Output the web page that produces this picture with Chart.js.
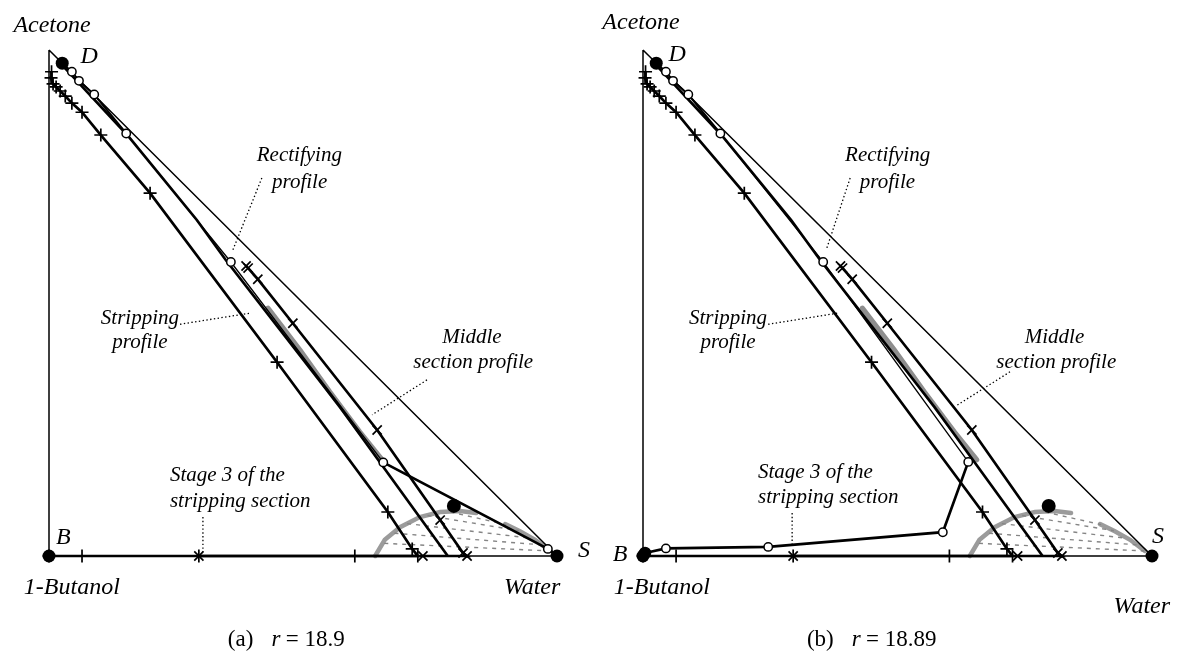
<!DOCTYPE html>
<html>
<head>
<meta charset="utf-8">
<title>Acetone / 1-Butanol / Water column profiles</title>
<script src="https://cdn.jsdelivr.net/npm/chart.js@4.4.1/dist/chart.umd.min.js"></script>
<style>
  html, body { margin: 0; padding: 0; background: #ffffff; }
  #wrap { position: relative; width: 1186px; height: 670px; overflow: hidden; }
  canvas { position: absolute; top: 0; }
  #panelA { left: 0; }
  #panelB { left: 593px; }
</style>
</head>
<body>
<div id="wrap">
  <canvas id="panelA" width="593" height="670" style="width:593px;height:670px"></canvas>
  <canvas id="panelB" width="593" height="670" style="width:593px;height:670px"></canvas>
</div>
<script>
// Right-triangle ternary diagram: x = water fraction, y = acetone fraction, 1-butanol is the balance.

// Triangle edges (Acetone -> 1-Butanol -> Water -> Acetone)
const triangleWater   = [0, 0, 1, 0];
const triangleAcetone = [1, 0, 0, 1];

// Products D, B, S
const productWater   = [0.026, 0, 1];
const productAcetone = [0.974, 0, 0];

// Feed composition
const feedWater   = [0.797];
const feedAcetone = [0.099];

// Rectifying profile, r = 18.9
const rectAWater   = [0.026, 0.045, 0.059, 0.089, 0.152, 0.358, 0.658, 0.982, 1.000];
const rectAAcetone = [0.974, 0.957, 0.939, 0.912, 0.835, 0.581, 0.185, 0.014, 0.000];

// Rectifying profile, r = 18.89
const rectBWater   = [0.026, 0.045, 0.059, 0.089, 0.152, 0.354, 0.639, 0.589, 0.246, 0.045, 0.004];
const rectBAcetone = [0.974, 0.957, 0.939, 0.912, 0.835, 0.581, 0.186, 0.047, 0.018, 0.015, 0.006];

// Stripping profile (stage by stage from B)
const stripWater   = [0, 0.065, 0.295, 0.602, 0.726, 0.715, 0.667, 0.449, 0.199, 0.102, 0.065, 0.045, 0.032, 0.022, 0.014, 0.008, 0.004, 0.005];
const stripAcetone = [0, 0, 0, 0, 0, 0.014, 0.087, 0.383, 0.717, 0.832, 0.877, 0.895, 0.909, 0.919, 0.927, 0.933, 0.945, 0.957];

// Middle section profile
const midWater   = [0.388, 0.392, 0.411, 0.480, 0.646, 0.770, 0.815, 0.823, 0.736, 0.295];
const midAcetone = [0.573, 0.569, 0.547, 0.460, 0.249, 0.071, 0.006, 0.000, 0.000, 0.000];

// Rectifying pinch branch from D
const pinchWater   = [0.026, 0.154, 0.291, 0.348, 0.455, 0.573, 0.785];
const pinchAcetone = [0.970, 0.832, 0.664, 0.585, 0.447, 0.294, 0.000];

// Grey curve segment in the middle of the diagram
const greyWater   = [0.431, 0.494, 0.553, 0.612, 0.656];
const greyAcetone = [0.490, 0.407, 0.324, 0.245, 0.190];

// Liquid-liquid envelope branches
const binodalLeftWater    = [0.642, 0.661, 0.691, 0.730, 0.770, 0.809, 0.841];
const binodalLeftAcetone  = [0.000, 0.032, 0.057, 0.077, 0.087, 0.089, 0.085];
const binodalRightWater   = [0.898, 0.927, 0.957, 0.986];
const binodalRightAcetone = [0.063, 0.049, 0.032, 0.010];

// Tie lines (left end -> right end)
const tieLeftWater    = [0.790, 0.745, 0.705, 0.680, 0.660];
const tieLeftAcetone  = [0.087, 0.080, 0.064, 0.045, 0.025];
const tieRightWater   = [0.900, 0.925, 0.950, 0.970, 0.985];
const tieRightAcetone = [0.062, 0.050, 0.035, 0.022, 0.010];

const FONT = '"Liberation Serif", "Times New Roman", Times, serif';

const pts = (xs, ys) => xs.map((x, i) => ({ x: x, y: ys[i] }));

// Text and leader lines, positioned in diagram units
const annotationsA = {
  texts: [
    { t: 'Acetone', x: 0.006, y: 1.049, s: 24 },
    { t: 'D', x: 0.079, y: 0.986, s: 24 },
    { t: 'B', x: 0.028, y: 0.036, s: 24 },
    { t: 'S', x: 1.053, y: 0.010, s: 24 },
    { t: '1-Butanol', x: 0.045, y: -0.063, s: 24 },
    { t: 'Water', x: 0.951, y: -0.063, s: 24 },
    { t: 'Rectifying', x: 0.409, y: 0.791, s: 21, a: 'left' },
    { t: 'profile', x: 0.439, y: 0.739, s: 21, a: 'left' },
    { t: 'Stripping', x: 0.179, y: 0.470, s: 21 },
    { t: 'profile', x: 0.179, y: 0.421, s: 21 },
    { t: 'Middle', x: 0.774, y: 0.431, s: 21, a: 'left' },
    { t: 'section profile', x: 0.717, y: 0.383, s: 21, a: 'left' },
    { t: 'Stage 3 of the', x: 0.238, y: 0.160, s: 21, a: 'left' },
    { t: 'stripping section', x: 0.238, y: 0.107, s: 21, a: 'left' },
    { t: '(a)', x: 0.352, y: -0.166, s: 23, a: 'left', up: true },
    { t: 'r', x: 0.438, y: -0.166, s: 23, a: 'left' },
    { t: '= 18.9', x: 0.466, y: -0.166, s: 23, a: 'left', up: true }
  ],
  leaders: [
    [0.419, 0.747, 0.362, 0.605],
    [0.258, 0.458, 0.396, 0.480],
    [0.744, 0.348, 0.636, 0.279],
    [0.303, 0.077, 0.303, 0.008]
  ]
};

const annotationsB = {
  texts: [
    { t: 'Acetone', x: -0.004, y: 1.053, s: 24 },
    { t: 'D', x: 0.067, y: 0.990, s: 24 },
    { t: 'B', x: -0.045, y: 0.002, s: 24 },
    { t: 'S', x: 1.012, y: 0.038, s: 24 },
    { t: '1-Butanol', x: 0.037, y: -0.063, s: 24 },
    { t: 'Water', x: 0.980, y: -0.101, s: 24 },
    { t: 'Rectifying', x: 0.397, y: 0.791, s: 21, a: 'left' },
    { t: 'profile', x: 0.426, y: 0.739, s: 21, a: 'left' },
    { t: 'Stripping', x: 0.167, y: 0.470, s: 21 },
    { t: 'profile', x: 0.167, y: 0.421, s: 21 },
    { t: 'Middle', x: 0.750, y: 0.431, s: 21, a: 'left' },
    { t: 'section profile', x: 0.694, y: 0.383, s: 21, a: 'left' },
    { t: 'Stage 3 of the', x: 0.226, y: 0.166, s: 21, a: 'left' },
    { t: 'stripping section', x: 0.226, y: 0.115, s: 21, a: 'left' },
    { t: '(b)', x: 0.322, y: -0.166, s: 23, a: 'left', up: true },
    { t: 'r', x: 0.410, y: -0.166, s: 23, a: 'left' },
    { t: '= 18.89', x: 0.438, y: -0.166, s: 23, a: 'left', up: true }
  ],
  leaders: [
    [0.407, 0.747, 0.360, 0.605],
    [0.246, 0.458, 0.383, 0.480],
    [0.721, 0.364, 0.617, 0.298],
    [0.293, 0.085, 0.293, 0.018]
  ]
};

const textPlugin = {
  id: 'ternaryText',
  afterDatasetsDraw(chart, args, opts) {
    const ctx = chart.ctx;
    const xs = chart.scales.x, ys = chart.scales.y;
    ctx.save();
    ctx.strokeStyle = '#000';
    ctx.lineWidth = 1.3;
    ctx.setLineDash([1.4, 2.4]);
    for (const l of opts.leaders) {
      ctx.beginPath();
      ctx.moveTo(xs.getPixelForValue(l[0]), ys.getPixelForValue(l[1]));
      ctx.lineTo(xs.getPixelForValue(l[2]), ys.getPixelForValue(l[3]));
      ctx.stroke();
    }
    ctx.setLineDash([]);
    ctx.fillStyle = '#000';
    ctx.textBaseline = 'middle';
    for (const t of opts.texts) {
      ctx.font = (t.up ? '' : 'italic ') + t.s + 'px ' + FONT;
      ctx.textAlign = t.a || 'center';
      ctx.fillText(t.t, xs.getPixelForValue(t.x), ys.getPixelForValue(t.y));
    }
    ctx.restore();
  }
};

function line(data, color, width, extra) {
  return Object.assign({
    data: data, showLine: true, borderColor: color, borderWidth: width,
    pointRadius: 0, fill: false, clip: false, tension: 0
  }, extra || {});
}

function buildDatasets(rectW, rectA, rectEndFilled) {
  const ds = [];
  // envelope and tie lines (underneath)
  ds.push(line(pts(binodalLeftWater, binodalLeftAcetone), '#9b9b9b', 4.5, { order: 30, borderCapStyle: 'round' }));
  ds.push(line(pts(binodalRightWater, binodalRightAcetone), '#9b9b9b', 4.5, { order: 30, borderCapStyle: 'round' }));
  tieLeftWater.forEach((w, i) => {
    ds.push(line(pts([w, tieRightWater[i]], [tieLeftAcetone[i], tieRightAcetone[i]]), '#858585', 1.4,
      { order: 29, borderDash: [4, 5] }));
  });
  ds.push(line(pts(greyWater, greyAcetone), '#8e8e8e', 5, { order: 28, borderCapStyle: 'round' }));

  // triangle
  ds.push(line(pts(triangleWater, triangleAcetone), '#000', 1.5, { order: 20 }));

  // pinch branch
  ds.push(line(pts(pinchWater, pinchAcetone), '#000', 2.7, { order: 15 }));

  // middle section profile (x markers)
  ds.push(line(pts(midWater, midAcetone), '#000', 2.7, {
    order: 12, pointStyle: 'crossRot', pointRadius: 6.5, pointBorderWidth: 1.7,
    pointBorderColor: '#000', pointBackgroundColor: '#000'
  }));

  // stripping profile (+ markers)
  ds.push(line(pts(stripWater, stripAcetone), '#000', 2.7, {
    order: 11, pointStyle: 'cross', pointRadius: 6.5, pointBorderWidth: 1.7,
    pointBorderColor: '#000', pointBackgroundColor: '#000'
  }));

  // rectifying profile (open circles)
  const n = rectW.length;
  ds.push(line(pts(rectW, rectA), '#000', 1.5, {
    order: 10,
    segment: {
      borderWidth: c => (c.p0DataIndex >= 6 ? 2.7 : (c.p0DataIndex < 4 ? 2.0 : 1.3))
    },
    pointStyle: 'circle',
    pointRadius: rectW.map((w, i) => (rectEndFilled && i === n - 1 ? 5.5 : 4.2)),
    pointBorderWidth: 1.5,
    pointBorderColor: '#000',
    pointBackgroundColor: rectW.map((w, i) => (rectEndFilled && i === n - 1 ? '#000' : '#fff'))
  }));

  // D, B, S
  ds.push(line(pts(productWater, productAcetone), '#000', 0, {
    showLine: false, order: 2, pointStyle: 'circle', pointRadius: 6.5,
    pointBorderWidth: 0, pointBackgroundColor: '#000'
  }));
  // feed
  ds.push(line(pts(feedWater, feedAcetone), '#000', 0, {
    showLine: false, order: 2, pointStyle: 'circle', pointRadius: 7,
    pointBorderWidth: 0, pointBackgroundColor: '#000'
  }));
  return ds;
}

function makeChart(id, datasets, annotations, pad) {
  return new Chart(document.getElementById(id), {
    type: 'scatter',
    data: { datasets: datasets },
    options: {
      responsive: false,
      animation: false,
      devicePixelRatio: 1,
      events: [],
      layout: { padding: pad },
      scales: {
        x: { type: 'linear', min: 0, max: 1, display: false },
        y: { type: 'linear', min: 0, max: 1, display: false }
      },
      plugins: {
        legend: { display: false },
        tooltip: { enabled: false },
        ternaryText: annotations
      }
    },
    plugins: [textPlugin]
  });
}

makeChart('panelA', buildDatasets(rectAWater, rectAAcetone, false), annotationsA,
  { left: 49, top: 50, right: 36, bottom: 114 });
makeChart('panelB', buildDatasets(rectBWater, rectBAcetone, true), annotationsB,
  { left: 50, top: 50, right: 34, bottom: 114 });
</script>
</body>
</html>
